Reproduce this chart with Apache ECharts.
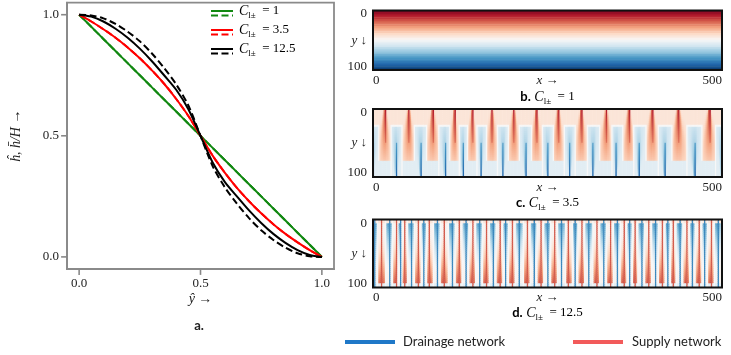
<!DOCTYPE html>
<html><head><meta charset="utf-8">
<script src="https://cdn.jsdelivr.net/npm/echarts@6/dist/echarts.min.js"></script>
<style>html,body{margin:0;padding:0;background:#fff}#c{width:731px;height:355px}</style>
</head><body><div id="c"></div>
<script>
// ---------- panel a: profiles ----------
const yHat = [0,0.05,0.1,0.15,0.2,0.25,0.3,0.35,0.4,0.45,0.5,0.55,0.6,0.65,0.7,0.75,0.8,0.85,0.9,0.95,1];
const hC1      = [1,0.95,0.9,0.85,0.8,0.75,0.7,0.65,0.6,0.55,0.5,0.45,0.4,0.35,0.3,0.25,0.2,0.15,0.1,0.05,0];
const hC1Mean  = [1,0.95,0.9,0.85,0.8,0.75,0.7,0.65,0.6,0.55,0.5,0.45,0.4,0.35,0.3,0.25,0.2,0.15,0.1,0.05,0];
const hC35     = [1,0.972,0.94,0.905,0.865,0.82,0.77,0.715,0.652,0.582,0.5,0.418,0.348,0.285,0.23,0.18,0.135,0.095,0.06,0.028,0];
const hC35Mean = [1,0.972,0.94,0.905,0.865,0.82,0.77,0.715,0.652,0.582,0.5,0.418,0.348,0.285,0.23,0.18,0.135,0.095,0.06,0.028,0];
const hC125    = [1,0.992,0.972,0.942,0.905,0.86,0.808,0.75,0.69,0.61,0.5,0.39,0.31,0.25,0.192,0.14,0.095,0.058,0.028,0.008,0];
const hC125Mean= [1,0.997,0.985,0.962,0.93,0.89,0.84,0.78,0.712,0.625,0.5,0.375,0.288,0.22,0.16,0.11,0.07,0.038,0.015,0.003,0];
const aTicks = [0, 0.5, 1];
const legendLabels = ['1', '3.5', '12.5'];

// ---------- panel b: vertical head field (row values, top to bottom) ----------
const fieldB = [0.94,0.883,0.826,0.769,0.712,0.655,0.598,0.541,0.484,0.427,0.37,0.313,0.256,0.199,0.142,0.085,0.028,
  -0.028,-0.085,-0.142,-0.199,-0.256,-0.313,-0.37,-0.427,-0.484,-0.541,-0.598,-0.655,-0.712,-0.769,-0.826,-0.883,-0.94];

// ---------- panels c, d: channel positions (x, 0..512) ----------
const supplyC = [18,53,88,120,146,175,207,240,272,306,343,376,410,448,494];
const drainC  = [0,34,70,106,132,159,191,224,256,289,323,357,390,428,472,512];
const supplyD = [13,34,47,67,83,104,126,146,166,186,204,226,246,266,287,306,328,348,368,384,404,424,440,460,478,496];
const drainD  = [2,24,40,56,75,94,116,137,156,176,195,215,236,256,277,297,317,338,358,376,394,414,432,450,469,487,506];
const xTicks = [0, 500];
const yTicks = [0, 100];

const COLS = 256, ROWS = 34;
const SERIF = "'Liberation Serif','DejaVu Serif',serif";
const SANS = "Lato,'Liberation Sans',sans-serif";

function fieldCfn(a, W, t, d, onLine, boundary) {
  const top = 0.24, bot = 0.76;
  if (t === 'S') {
    if (d >= bot) return -0.11;
    if (boundary && d >= top) return 0;
    const s = W * (0.15 + 1.2 * d);
    let v = 0.13 + 0.6 * (1 - d) * Math.exp(-(a / s) * (a / s));
    if (onLine && d < 0.5) v = Math.max(v, 0.8 - 0.5 * d);
    return v;
  } else {
    if (d < top) return 0.13;
    if (boundary) return 0;
    if (d - top < 1 / ROWS) return 0.0;
    const e = 1 - d;
    const s = W * (0.08 + 0.9 * e);
    let v = -0.11 - 0.4 * (1 - e) * Math.exp(-(a / s) * (a / s));
    if (onLine && e < 0.5) v = Math.min(v, -(0.8 - 0.5 * e));
    return v;
  }
}
function fieldDfn(a, W, t, d, onLine, boundary) {
  const base = d < 0.06 ? 0.12 : (d > 0.94 ? -0.1 : 0.03);
  if (onLine) return t === 'S' ? 0.62 : -0.66;
  if (boundary) return 0;
  if (t === 'S') {
    if (d < 0.22 || d > 0.93) return base;
    const g = (d - 0.22) / 0.71;
    const s = W * (0.4 + 0.9 * g);
    return base + 0.62 * g * Math.exp(-(a / s) * (a / s));
  } else {
    if (d < 0.07 || d > 0.78) return base;
    const g = (0.78 - d) / 0.71;
    const s = W * (0.4 + 0.9 * g);
    return base - 0.62 * g * Math.exp(-(a / s) * (a / s));
  }
}
function buildField(sup, drn, fn) {
  const ch = sup.map(p => ({p, t: 'S'})).concat(drn.map(p => ({p, t: 'D'}))).sort((u, v) => u.p - v.p);
  const out = [];
  for (let i = 0; i < COLS; i++) {
    const x = i * 2 + 1;
    let k = 0; while (k < ch.length && ch[k].p <= x) k++;
    const L = ch[k - 1], R = ch[k];
    let near, W, a, boundary = false;
    if (!L) { near = R; W = (ch[1].p - R.p) / 2; a = R.p - x; }
    else if (!R) { near = L; W = (L.p - ch[ch.length - 2].p) / 2; a = x - L.p; }
    else {
      const m = (L.p + R.p) / 2;
      if (x < m) { near = L; W = m - L.p; a = x - L.p; } else { near = R; W = R.p - m; a = R.p - x; }
      boundary = L.t !== R.t && Math.floor(m / 2) === i;
    }
    const onLine = Math.floor(near.p / 2) === i;
    for (let j = 0; j < ROWS; j++) {
      const d = (j + 0.5) / ROWS;
      out.push([i, j, +fn(a, W, near.t, d, onLine, boundary).toFixed(3)]);
    }
  }
  return out;
}
const dataB = [];
fieldB.forEach((v, j) => dataB.push([0, j, v]));
const dataC = buildField(supplyC, drainC, fieldCfn);
const dataD = buildField(supplyD, drainD, fieldDfn);

const chart = echarts.init(document.getElementById('c'), null, {renderer: 'canvas'});
const colIdx = Array.from({length: COLS}, (_, i) => i);
const rowIdx = Array.from({length: ROWS}, (_, i) => i);

const gray = '#8a8a8a';
const panelTops = [2, 109, 219.5];
const grids = [{left: 67, top: 2.6, width: 267, height: 266.4, show: true, borderColor: gray, borderWidth: 1.8, backgroundColor: 'transparent', z: 10}];
panelTops.forEach(t => grids.push({left: 373, top: t, width: 349, height: 68, show: true, borderColor: '#111', borderWidth: 2, backgroundColor: 'transparent', z: 10}));

const xAxes = [{
  gridIndex: 0, type: 'value', min: -0.05, max: 1.05, position: 'bottom',
  axisLine: {show: true, onZero: false, lineStyle: {color: gray, width: 1.8}}, splitLine: {show: false},
  axisTick: {show: false},
  axisLabel: {customValues: aTicks, formatter: v => v.toFixed(1), margin: 8, fontFamily: SERIF, fontSize: 13, color: '#222'},
  name: 'ŷ →', nameLocation: 'middle', nameGap: 23, nameMoveOverlap: false,
  nameTextStyle: {fontFamily: SERIF, fontStyle: 'italic', fontSize: 14, color: '#222'}
}];
const yAxes = [{
  gridIndex: 0, type: 'value', min: -0.05, max: 1.05, position: 'left',
  axisLine: {show: true, onZero: false, lineStyle: {color: gray, width: 1.8}}, splitLine: {show: false},
  axisTick: {show: false},
  axisLabel: {customValues: aTicks, formatter: v => v.toFixed(1), margin: 8, fontFamily: SERIF, fontSize: 13, color: '#222'},
  name: 'ĥ, h̄/H →', nameLocation: 'middle', nameGap: 44, nameMoveOverlap: false,
  nameTextStyle: {fontFamily: SERIF, fontStyle: 'italic', fontSize: 14, color: '#222'}
}];
[1, 2, 3].forEach(g => {
  xAxes.push({gridIndex: g, type: 'category', data: g === 1 ? [0] : colIdx, show: false});
  xAxes.push({gridIndex: g, type: 'value', min: -4.9, max: 514.6, position: 'bottom',
    axisLine: {show: false, onZero: false}, axisTick: {show: false}, splitLine: {show: false},
    axisLabel: {customValues: xTicks, margin: 4, fontFamily: SERIF, fontSize: 13, color: '#222'},
    name: 'x →', nameLocation: 'middle', nameGap: 4, nameMoveOverlap: false,
    nameTextStyle: {fontFamily: SERIF, fontStyle: 'italic', fontSize: 13, color: '#222'}});
  yAxes.push({gridIndex: g, type: 'category', data: rowIdx, inverse: true, show: false});
  yAxes.push({gridIndex: g, type: 'value', min: -6.67, max: 106.67, inverse: true, position: 'left',
    axisLine: {show: false, onZero: false}, axisTick: {show: false}, splitLine: {show: false},
    axisLabel: {customValues: yTicks, margin: 6, fontFamily: SERIF, fontSize: 13, color: '#222'},
    name: 'y ↓', nameLocation: 'middle', nameRotate: 0, nameGap: 6, nameMoveOverlap: false,
    nameTextStyle: {fontFamily: SERIF, fontStyle: 'italic', fontSize: 13, color: '#222'}});
});

function lineSeries(vals, color, dashed) {
  return {type: 'line', xAxisIndex: 0, yAxisIndex: 0, data: yHat.map((x, i) => [x, vals[i]]),
    showSymbol: false, symbol: 'none', smooth: 0.3, silent: true,
    lineStyle: {color, width: 2, type: dashed ? [7, 3.5] : 'solid'}};
}
// tick marks of panel a, placed at the tick values through the axis scales
const tickMarkStyle = {color: '#6a6a6a'};
const series = [
  lineSeries(hC1Mean, '#118811', true), lineSeries(hC1, '#118811', false),
  lineSeries(hC35Mean, '#ff0000', true), lineSeries(hC35, '#ff0000', false),
  lineSeries(hC125Mean, '#000000', true), lineSeries(hC125, '#000000', false),
  {type: 'heatmap', xAxisIndex: 1, yAxisIndex: 1, data: dataB, progressive: 0, silent: true},
  {type: 'heatmap', xAxisIndex: 3, yAxisIndex: 3, data: dataC, progressive: 0, silent: true},
  {type: 'heatmap', xAxisIndex: 5, yAxisIndex: 5, data: dataD, progressive: 0, silent: true},
  {type: 'scatter', xAxisIndex: 0, yAxisIndex: 0, data: aTicks.map(v => [-0.05, v]), symbol: 'rect',
    symbolSize: [5, 1.6], symbolOffset: [-3.4, 0], clip: false, silent: true, itemStyle: tickMarkStyle, z: 20},
  {type: 'scatter', xAxisIndex: 0, yAxisIndex: 0, data: aTicks.map(v => [v, -0.05]), symbol: 'rect',
    symbolSize: [1.6, 5], symbolOffset: [0, 3.4], clip: false, silent: true, itemStyle: tickMarkStyle, z: 20}
];

const capRich = {
  b: {fontFamily: SANS, fontWeight: 'bold', fontSize: 13, color: '#222', lineHeight: 18},
  c: {fontFamily: SERIF, fontStyle: 'italic', fontSize: 14, color: '#222', lineHeight: 18},
  s: {fontFamily: SERIF, fontSize: 9, color: '#222', lineHeight: 12, verticalAlign: 'bottom'},
  t: {fontFamily: SERIF, fontSize: 13, color: '#222', lineHeight: 18}
};
const graphic = [];
const legColors = ['#118811', '#ff0000', '#000000'];
legendLabels.forEach((lab, i) => {
  const y = 11 + i * 19;
  graphic.push({type: 'line', shape: {x1: 211, y1: y, x2: 233, y2: y}, style: {stroke: legColors[i], lineWidth: 2}});
  graphic.push({type: 'line', shape: {x1: 211, y1: y + 4.5, x2: 233, y2: y + 4.5}, style: {stroke: legColors[i], lineWidth: 2, lineDash: [7, 3.5]}});
  graphic.push({type: 'text', left: 239, top: y - 7, style: {text: '{c|C}{s|l±}{t|  = ' + lab + '}', rich: capRich}});
});
const caps = [['b.', '1', 97], ['c.', '3.5', 203], ['d.', '12.5', 313]];
caps.forEach(([p, v, y]) => {
  graphic.push({type: 'text', x: 547.5, y: y, style: {text: '{b|' + p + '}{c| C}{s|l±}{t|  = ' + v + '}', rich: capRich, align: 'center', verticalAlign: 'middle'}});
});
graphic.push({type: 'text', x: 199, y: 326, style: {text: 'a.', font: 'bold 13px ' + SANS, fill: '#222', align: 'center', verticalAlign: 'middle'}});
graphic.push({type: 'line', shape: {x1: 345, y1: 342, x2: 395, y2: 342}, style: {stroke: '#1f78c8', lineWidth: 4}});
graphic.push({type: 'text', x: 403, y: 342, style: {text: 'Drainage network', font: '13px ' + SANS, fill: '#222', verticalAlign: 'middle'}});
graphic.push({type: 'line', shape: {x1: 573, y1: 342, x2: 623, y2: 342}, style: {stroke: '#f25a5a', lineWidth: 4}});
graphic.push({type: 'text', x: 632, y: 342, style: {text: 'Supply network', font: '13px ' + SANS, fill: '#222', verticalAlign: 'middle'}});

chart.setOption({
  animation: false,
  grid: grids, xAxis: xAxes, yAxis: yAxes,
  visualMap: {show: false, type: 'continuous', min: -1, max: 1, seriesIndex: [6, 7, 8],
    inRange: {color: ['#053061','#2166ac','#4393c3','#92c5de','#d1e5f0','#f7f7f7','#fddbc7','#f4a582','#d6604d','#b2182b','#67001f']}},
  series, graphic
});
</script></body></html>
